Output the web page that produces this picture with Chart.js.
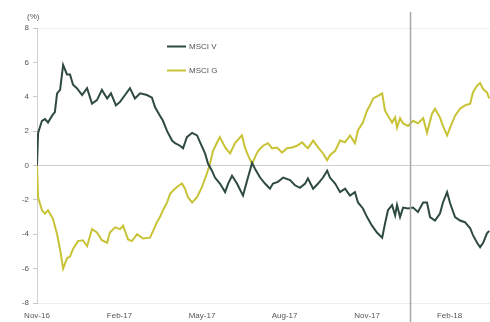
<!DOCTYPE html>
<html><head><meta charset="utf-8">
<script src="https://cdn.jsdelivr.net/npm/chart.js@4"></script>
<style>html,body{margin:0;padding:0;background:#fff}#wrap{width:490px;height:322px;position:relative}</style>
</head><body><div id="wrap"><canvas id="c"></canvas></div>
<script>
const seriesNames = ['MSCI V', 'MSCI G'];
const seriesColors = ['#2e4a42', '#c8c336'];
const tickMonths = [0, 3, 6, 9, 12, 15];
const tickLabels = ['Nov-16', 'Feb-17', 'May-17', 'Aug-17', 'Nov-17', 'Feb-18'];
const markerMonth = 13.56;
const unitLabel = '(%)';

const vMonths = [0,0.04,0.18,0.29,0.40,0.55,0.65,0.73,0.84,0.95,1.09,1.20,1.31,1.45,1.64,1.82,2.00,2.18,2.36,2.55,2.69,2.87,3.02,3.20,3.38,3.56,3.75,4.00,4.18,4.29,4.47,4.58,4.73,4.91,5.02,5.20,5.31,5.45,5.64,5.82,5.93,6.11,6.22,6.36,6.47,6.65,6.84,6.95,7.09,7.27,7.49,7.67,7.82,7.93,8.11,8.29,8.47,8.58,8.76,8.95,9.20,9.38,9.56,9.75,9.85,10.04,10.22,10.40,10.55,10.65,10.84,11.02,11.20,11.38,11.56,11.67,11.85,12.00,12.18,12.36,12.55,12.65,12.76,12.91,13.02,13.09,13.20,13.31,13.49,13.67,13.85,14.04,14.18,14.29,14.47,14.65,14.76,14.91,15.02,15.20,15.38,15.56,15.75,15.85,16.00,16.11,16.22,16.36,16.44];
const vValues = [0,1.9,2.6,2.7,2.5,2.9,3.1,4.2,4.4,5.85,5.3,5.3,4.7,4.5,4.1,4.5,3.6,3.8,4.4,3.9,4.2,3.5,3.7,4.1,4.5,3.9,4.2,4.1,3.95,3.4,2.9,2.6,2.0,1.45,1.3,1.15,1.0,1.65,1.9,1.75,1.35,0.7,0.1,-0.3,-0.7,-1.05,-1.55,-1.05,-0.6,-1.05,-1.75,-0.7,0.15,-0.2,-0.7,-1.05,-1.35,-1.05,-0.95,-0.7,-0.85,-1.15,-1.3,-1.05,-0.75,-1.35,-1.05,-0.7,-0.3,-0.7,-1.05,-1.55,-1.35,-1.75,-1.55,-2.15,-2.5,-3.0,-3.5,-3.9,-4.2,-3.4,-2.6,-2.3,-2.9,-2.3,-3.0,-2.45,-2.5,-2.45,-2.7,-2.15,-2.15,-3.0,-3.2,-2.8,-2.15,-1.55,-2.2,-3.0,-3.2,-3.3,-3.65,-4.05,-4.5,-4.75,-4.5,-3.95,-3.8];

const gMonths = [0,0.04,0.18,0.29,0.40,0.58,0.73,0.84,0.95,1.09,1.20,1.31,1.49,1.67,1.82,2.00,2.18,2.36,2.55,2.65,2.84,3.02,3.13,3.31,3.45,3.64,3.85,4.11,4.22,4.36,4.47,4.58,4.73,4.84,4.95,5.09,5.27,5.38,5.49,5.64,5.82,6.00,6.18,6.29,6.40,6.55,6.65,6.84,7.02,7.20,7.45,7.56,7.67,7.82,7.93,8.04,8.22,8.40,8.55,8.73,8.91,9.09,9.27,9.45,9.64,9.75,9.85,10.04,10.22,10.40,10.55,10.65,10.84,11.02,11.20,11.38,11.56,11.67,11.85,12.00,12.11,12.22,12.40,12.55,12.65,12.76,12.91,13.02,13.09,13.20,13.31,13.49,13.67,13.85,14.04,14.18,14.36,14.47,14.65,14.76,14.91,15.02,15.20,15.38,15.56,15.75,15.85,16.00,16.11,16.22,16.36,16.44];
const gValues = [0,-1.85,-2.6,-2.8,-2.6,-3.1,-4.0,-4.9,-6.0,-5.4,-5.3,-4.85,-4.4,-4.35,-4.7,-3.7,-3.9,-4.35,-4.5,-3.9,-3.6,-3.7,-3.5,-4.3,-4.4,-4.0,-4.25,-4.2,-3.8,-3.3,-3.0,-2.6,-2.15,-1.65,-1.45,-1.25,-1.05,-1.35,-1.85,-2.15,-1.85,-1.25,-0.45,0.1,0.85,1.35,1.65,1.05,0.7,1.3,1.75,1.05,0.6,0.1,0.5,0.85,1.15,1.3,1.0,1.05,0.75,1.0,1.05,1.15,1.35,1.15,1.0,1.45,1.05,0.7,0.3,0.6,0.85,1.45,1.35,1.75,1.3,2.05,2.5,3.2,3.5,3.9,4.05,4.2,3.2,2.9,2.5,2.8,2.2,2.75,2.45,2.3,2.6,2.45,2.75,1.9,3.0,3.3,2.8,2.3,1.75,2.2,2.9,3.3,3.5,3.6,4.25,4.65,4.8,4.45,4.25,3.9];

Chart.defaults.font.family = '"Liberation Sans", Arial, sans-serif';
Chart.defaults.font.size = 8;
Chart.defaults.color = '#555';

const toPoints = (xs, ys) => xs.map((m, i) => ({ x: m, y: ys[i] }));

const extras = {
  id: 'extras',
  afterDatasetsDraw(chart) {
    const ctx = chart.ctx;
    const xs = chart.scales.x;
    const px = Math.round(xs.getPixelForValue(markerMonth)) + 0.5;
    ctx.save();
    ctx.strokeStyle = '#a8a8a8';
    ctx.lineWidth = 1.5;
    ctx.beginPath();
    ctx.moveTo(px, 12);
    ctx.lineTo(px, 322);
    ctx.stroke();
    ctx.restore();
  },
  afterDraw(chart) {
    const ctx = chart.ctx;
    ctx.save();
    ctx.font = '8px "Liberation Sans", Arial, sans-serif';
    ctx.fillStyle = '#555';
    ctx.textBaseline = 'middle';
    ctx.textAlign = 'left';
    ctx.fillText(unitLabel, 27, 17);
    chart.data.datasets.forEach((ds, i) => {
      const y = 46 + i * 24;
      ctx.strokeStyle = ds.borderColor;
      ctx.lineWidth = 2;
      ctx.beginPath();
      ctx.moveTo(167, y + 0.5);
      ctx.lineTo(186, y + 0.5);
      ctx.stroke();
      ctx.fillStyle = '#555';
      ctx.fillText(ds.label, 189, y + 1);
    });
    ctx.restore();
  }
};

new Chart(document.getElementById('c'), {
  type: 'line',
  data: {
    datasets: [
      { label: seriesNames[0], data: toPoints(vMonths, vValues), borderColor: seriesColors[0], borderWidth: 2, pointRadius: 0, tension: 0, fill: false },
      { label: seriesNames[1], data: toPoints(gMonths, gValues), borderColor: seriesColors[1], borderWidth: 2, pointRadius: 0, tension: 0, fill: false }
    ]
  },
  options: {
    responsive: true,
    maintainAspectRatio: false,
    animation: false,
    layout: { padding: { top: 28, right: 0, bottom: 0, left: 0 } },
    plugins: { legend: { display: false }, tooltip: { enabled: false } },
    scales: {
      x: {
        type: 'linear',
        min: 0,
        max: 16.47,
        afterBuildTicks: (s) => { s.ticks = tickMonths.map(v => ({ value: v })); },
        afterFit: (s) => { s.height = 19; },
        grid: { display: false, drawTicks: false },
        border: { display: true, color: '#ececec' },
        ticks: {
          autoSkip: false, maxRotation: 0, padding: 8,
          callback: (v) => { const i = tickMonths.indexOf(v); return i >= 0 ? tickLabels[i] : ''; }
        }
      },
      y: {
        min: -8,
        max: 8,
        afterFit: (s) => { s.width = 37; },
        border: { display: true, color: '#d0d0d0' },
        grid: {
          color: (c) => c.tick && c.tick.value === 0 ? '#cfcfcf' : (c.tick && c.tick.value === 8 ? '#f0f0f0' : 'rgba(0,0,0,0)'),
          tickColor: '#c8c8c8',
          tickLength: 4
        },
        ticks: { stepSize: 2, padding: 4 }
      }
    }
  },
  plugins: [extras]
});
</script>
</body></html>
